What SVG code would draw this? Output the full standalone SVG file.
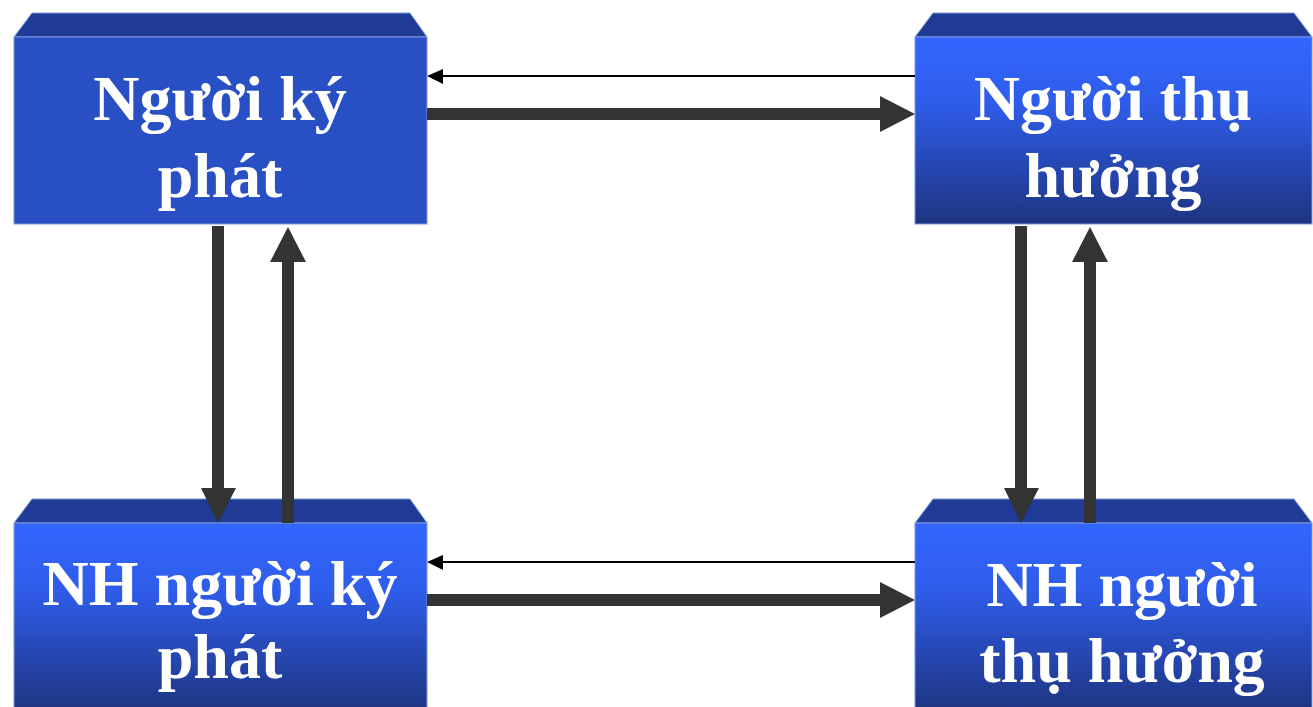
<svg xmlns="http://www.w3.org/2000/svg" width="1313" height="707" viewBox="0 0 1313 707">
  <style>
    .top { fill: #1F3B96; stroke: #7F97D8; stroke-width: 1; }
    .front { stroke: #7F97D8; stroke-width: 1; }
    .label { font-family: "Liberation Serif", "Times New Roman", serif; font-weight: bold; font-size: 64px; fill: #FFFFFF; text-anchor: middle; }
    .thick { fill: #333333; }
    .thin { stroke: #000000; stroke-width: 2; fill: none; }
  </style>
  <defs>
    <linearGradient id="faceGrad" x1="0" y1="0" x2="0" y2="1">
      <stop offset="0" stop-color="#3366FF"/>
      <stop offset="0.35" stop-color="#2F5DEA"/>
      <stop offset="1" stop-color="#1E3480"/>
    </linearGradient>
  </defs>
  <rect width="1313" height="707" fill="#FFFFFF"/>

  <!-- Top-left node -->
  <g id="nguoi-ky-phat">
    <polygon class="top" points="32,13 410,13 427,37 14,37"/>
    <rect class="front" x="14" y="37" width="413" height="187" fill="#2850C4"/>
    <text class="label" x="220" y="120">Người ký</text>
    <text class="label" x="220" y="197">phát</text>
  </g>

  <!-- Top-right node -->
  <g id="nguoi-thu-huong">
    <polygon class="top" points="933,13 1294,13 1312,37 915,37"/>
    <rect class="front" x="915" y="37" width="397" height="187" fill="url(#faceGrad)"/>
    <text class="label" x="1113" y="120">Người thụ</text>
    <text class="label" x="1113" y="197">hưởng</text>
  </g>

  <!-- Bottom-left node -->
  <g id="nh-nguoi-ky-phat">
    <polygon class="top" points="32,499 410,499 427,523 14,523"/>
    <rect class="front" x="14" y="523" width="413" height="190" fill="url(#faceGrad)"/>
    <text class="label" x="220" y="605">NH người ký</text>
    <text class="label" x="220" y="678">phát</text>
  </g>

  <!-- Bottom-right node -->
  <g id="nh-nguoi-thu-huong">
    <polygon class="top" points="933,499 1294,499 1312,523 915,523"/>
    <rect class="front" x="915" y="523" width="397" height="190" fill="url(#faceGrad)"/>
    <text class="label" x="1122" y="606">NH người</text>
    <text class="label" x="1122" y="682">thụ hưởng</text>
  </g>

  <!-- Connectors -->
  <g id="connectors">
    <!-- top row: thin return arrow, thick forward arrow -->
    <line class="thin" x1="915" y1="76" x2="440" y2="76"/>
    <polygon fill="#000000" points="427,76 443,69 443,84"/>
    <polygon class="thick" points="427,108 880,108 880,96 915,114 880,132 880,120 427,120"/>

    <!-- bottom row -->
    <line class="thin" x1="915" y1="562" x2="440" y2="562"/>
    <polygon fill="#000000" points="427,562 443,555 443,570"/>
    <polygon class="thick" points="427,594 880,594 880,582 915,600 880,618 880,606 427,606"/>

    <!-- left column -->
    <polygon class="thick" points="212,226 224,226 224,488 236,488 218,523 201,488 212,488"/>
    <polygon class="thick" points="282,523 294,523 294,262 306,262 288,227 270,262 282,262"/>

    <!-- right column -->
    <polygon class="thick" points="1015,226 1027,226 1027,488 1039,488 1021,523 1004,488 1015,488"/>
    <polygon class="thick" points="1084,523 1096,523 1096,262 1108,262 1090,227 1072,262 1084,262"/>
  </g>
</svg>
